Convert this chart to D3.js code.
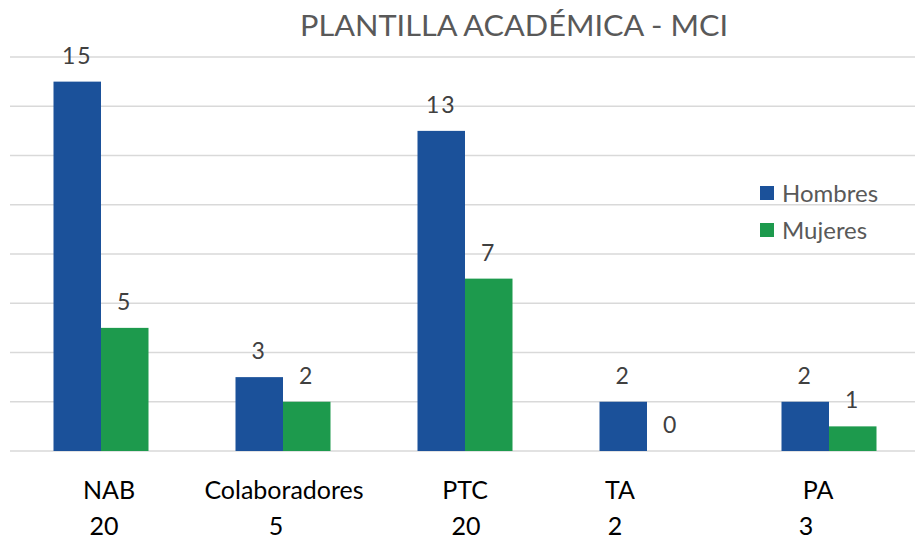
<!DOCTYPE html>
<html>
<head>
<meta charset="utf-8">
<script src="https://cdn.jsdelivr.net/npm/d3@7"></script>
<style>
  body { margin: 0; background: #fff; }
  svg { display: block; font-family: Lato, "Noto Sans", sans-serif; }
</style>
</head>
<body>
<div id="cnv"></div>
<script>
var categories = ["NAB", "Colaboradores", "PTC", "TA", "PA"];
var series = ["Hombres", "Mujeres"];
var hombres = [15, 3, 13, 2, 2];
var mujeres = [5, 2, 7, 0, 1];
var totals = [20, 5, 20, 2, 3];
var yTicks = [0, 2, 4, 6, 8, 10, 12, 14, 16];

// manual label nudges (text boxes in the original are not centred)
var catDx = [8, 1, 0, -27, -11];
var totDx = [3, -7, 1, -32, -23];

var colors = {Hombres: "#1b519a", Mujeres: "#1d9a4d"};

var width = 915, height = 542;
var svg = d3.select("#cnv").append("svg")
  .attr("width", width)
  .attr("height", height);

var x0 = d3.scaleBand()
  .domain(categories)
  .range([10, 920])
  .padding(0);
var groupW = 95;
var x1 = d3.scaleBand()
  .domain(series)
  .range([(x0.bandwidth() - groupW) / 2, (x0.bandwidth() + groupW) / 2]);
var y = d3.scaleLinear()
  .domain([0, 16])
  .range([451, 57]);

// gridlines
svg.append("g").selectAll("line")
  .data(yTicks)
  .enter().append("line")
  .attr("x1", 10)
  .attr("x2", width)
  .attr("y1", function(d){ return y(d); })
  .attr("y2", function(d){ return y(d); })
  .attr("stroke", "#d9d9d9")
  .attr("stroke-width", 1.5);

// title
svg.append("text")
  .attr("x", 514)
  .attr("y", 36)
  .attr("text-anchor", "middle")
  .attr("font-size", 28)
  .attr("fill", "#595959")
  .attr("textLength", 428)
  .attr("lengthAdjust", "spacingAndGlyphs")
  .text("PLANTILLA ACADÉMICA - MCI");

var rows = categories.map(function(c, i){
  return {cat: c, values: [
    {key: "Hombres", value: hombres[i]},
    {key: "Mujeres", value: mujeres[i]}
  ]};
});

var groups = svg.append("g").selectAll("g")
  .data(rows)
  .enter().append("g")
  .attr("transform", function(d){ return "translate(" + x0(d.cat) + ",0)"; });

groups.selectAll("rect")
  .data(function(d){ return d.values; })
  .enter().append("rect")
  .attr("x", function(d){ return x1(d.key); })
  .attr("width", x1.bandwidth())
  .attr("y", function(d){ return y(d.value); })
  .attr("height", function(d){ return y(0) - y(d.value); })
  .attr("fill", function(d){ return colors[d.key]; });

groups.selectAll("text.val")
  .data(function(d){ return d.values; })
  .enter().append("text")
  .attr("class", "val")
  .attr("x", function(d){ return x1(d.key) + x1.bandwidth() / 2; })
  .attr("y", function(d){ return y(d.value) - 18; })
  .attr("text-anchor", "middle")
  .attr("font-size", 23)
  .attr("letter-spacing", 2)
  .attr("fill", "#404040")
  .text(function(d){ return d.value; });

// category labels and totals
svg.append("g").selectAll("text")
  .data(categories)
  .enter().append("text")
  .attr("x", function(d, i){ return x0(d) + x0.bandwidth() / 2 + catDx[i]; })
  .attr("y", 499)
  .attr("text-anchor", "middle")
  .attr("font-size", 25)
  .attr("fill", "#000")
  .text(function(d){ return d; });

svg.append("g").selectAll("text")
  .data(totals)
  .enter().append("text")
  .attr("x", function(d, i){ return x0(categories[i]) + x0.bandwidth() / 2 + totDx[i]; })
  .attr("y", 535)
  .attr("text-anchor", "middle")
  .attr("font-size", 25)
  .attr("fill", "#000")
  .text(function(d){ return d; });

// legend
var legend = svg.append("g").selectAll("g")
  .data(series)
  .enter().append("g")
  .attr("transform", function(d, i){ return "translate(760," + (186 + i * 37) + ")"; });
legend.append("rect")
  .attr("width", 14)
  .attr("height", 14)
  .attr("fill", function(d){ return colors[d]; });
legend.append("text")
  .attr("x", 22)
  .attr("y", 16)
  .attr("font-size", 24)
  .attr("fill", "#595959")
  .text(function(d){ return d; });
</script>
</body>
</html>
